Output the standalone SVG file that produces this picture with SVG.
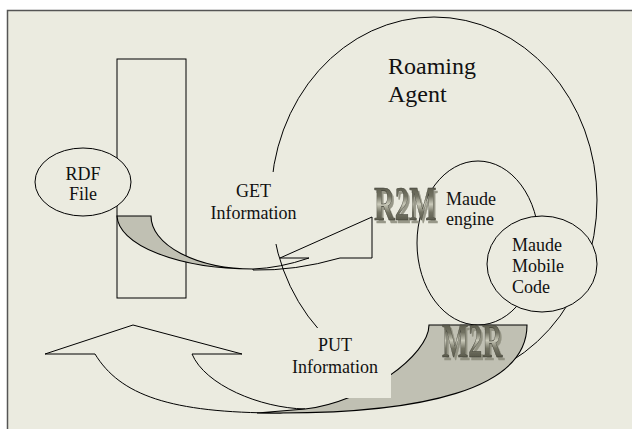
<svg xmlns="http://www.w3.org/2000/svg" width="632" height="429" viewBox="0 0 632 429">
<defs>
<style>
.ln{fill:none;stroke:#000;stroke-width:1}
.bg{fill:#EBEBE0;stroke:#000;stroke-width:1}
.gr{fill:#C0C0B3;stroke:#000;stroke-width:1.1}
.box{fill:#EBEBE0;stroke:none}
.t{font-family:'Liberation Serif','Times New Roman',serif;font-size:18px;fill:#111}
.tc{text-anchor:middle}
.big{font-size:24px}
.wa{font-family:'Liberation Serif','Times New Roman',serif;font-weight:bold;font-size:48px;fill:url(#metal);stroke:#3a3a30;stroke-width:0.5;filter:url(#sh)}
</style>
<linearGradient id="metal" x1="0" y1="0" x2="0" y2="1">
<stop offset="0" stop-color="#48483a"/>
<stop offset="0.35" stop-color="#727262"/>
<stop offset="0.5" stop-color="#cacaba"/>
<stop offset="0.65" stop-color="#747464"/>
<stop offset="1" stop-color="#3c3c30"/>
</linearGradient>
<filter id="sh" x="-5%" y="-5%" width="120%" height="120%">
<feOffset in="SourceAlpha" dx="4" dy="2.5" result="o"/>
<feFlood flood-color="#8a8a7a" flood-opacity="0.85"/>
<feComposite in2="o" operator="in" result="s"/>
<feMerge><feMergeNode in="s"/><feMergeNode in="SourceGraphic"/></feMerge>
</filter>
</defs>
<rect width="632" height="429" fill="#fff"/>
<rect x="7.5" y="10.5" width="640" height="430" fill="#EBEBE0" stroke="#555" stroke-width="1.5"/>

<g id="server"><rect x="117" y="59" width="69" height="239" class="bg"/></g>
<g id="rdf-file"><ellipse cx="83" cy="182" rx="48" ry="34" class="bg"/>
<text class="t tc" x="83" y="180">RDF</text><text class="t tc" x="83" y="200">File</text></g>

<g id="connectors">
<g id="get-arrow">
<path class="gr" d="M117,216 L151,216 A102,53 0 0 0 253,269 A136,54 0 0 1 117,216 Z"/>
<path class="bg" d="M253,270 Q295,271 340,258 L372,258 L372,217 L280,258 L309,258 Q280,268 253,269 Z"/>
</g>
</g>

<g id="roaming-agent">
<ellipse cx="434" cy="200" rx="163" ry="183" class="ln"/>
<text class="t big" x="388" y="74">Roaming</text>
<text class="t big" x="388" y="102">Agent</text>
</g>

<g id="maude-engine"><ellipse cx="478" cy="243" rx="61" ry="82" class="bg"/></g>
<g id="maude-mobile-code"><ellipse cx="542" cy="264" rx="55" ry="48" class="bg"/>
<text class="t" x="512" y="251">Maude</text><text class="t" x="512" y="272">Mobile</text><text class="t" x="512" y="293">Code</text></g>

<g id="connectors-put">
<g id="put-arrow">
<path class="bg" d="M45,354 L133,325 L242,354 L192,354 C205,385 260,408 305,409 L280,413 C170,413 120,395 95,354 Z"/>
<path class="gr" d="M257,413 L280,413 C420,413 527,390 527,325 L429,325 C429,355 365,402 305,409 Q280,411 257,413 Z"/>
</g>
</g>

<rect class="box" x="205" y="172" width="95" height="72"/>
<rect class="box" x="300" y="328" width="91" height="70"/>

<g id="get-label"><text class="t tc" x="253.5" y="197">GET</text><text class="t tc" x="253.5" y="219">Information</text></g>
<g id="put-label"><text class="t tc" x="335" y="351">PUT</text><text class="t tc" x="335" y="373">Information</text></g>
<g id="engine-label"><text class="t" x="446" y="205">Maude</text><text class="t" x="446" y="225">engine</text></g>

<g id="r2m" transform="translate(374,220) scale(0.6,1)"><text class="wa" x="0" y="0">R2M</text></g>
<g id="m2r" transform="translate(442,357) scale(0.58,1)"><text class="wa" x="0" y="0">M2R</text></g>
</svg>
